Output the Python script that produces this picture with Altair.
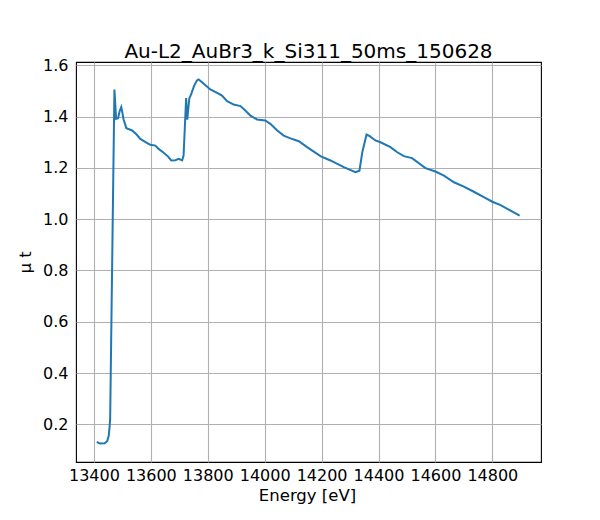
import altair as alt
import pandas as pd

# spectrum
energy = [13410, 13422, 13438, 13447, 13452, 13455, 13457, 13472, 13478, 13485,
          13490, 13496, 13500, 13504, 13514, 13534, 13550, 13563, 13586, 13598,
          13616, 13627, 13643, 13659, 13672, 13686, 13698, 13710, 13715, 13724,
          13728, 13735, 13742, 13752, 13762, 13768, 13786, 13809, 13833, 13850,
          13868, 13891, 13915, 13932, 13950, 13973, 14002, 14020, 14044, 14067,
          14088, 14120, 14149, 14196, 14231, 14278, 14319, 14333, 14343, 14358,
          14369, 14389, 14407, 14442, 14466, 14489, 14518, 14565, 14600, 14630,
          14665, 14700, 14735, 14770, 14800, 14829, 14864, 14896]
mu_t = [0.131, 0.125, 0.126, 0.135, 0.155, 0.19, 0.22, 1.506, 1.391, 1.394,
        1.42, 1.437, 1.415, 1.39, 1.355, 1.346, 1.330, 1.313, 1.298, 1.290,
        1.287, 1.274, 1.261, 1.246, 1.229, 1.230, 1.235, 1.229, 1.248, 1.472,
        1.388, 1.470, 1.489, 1.520, 1.541, 1.545, 1.528, 1.506, 1.493, 1.482,
        1.460, 1.447, 1.441, 1.424, 1.404, 1.389, 1.385, 1.372, 1.346, 1.326,
        1.316, 1.304, 1.281, 1.246, 1.229, 1.203, 1.183, 1.189, 1.261, 1.330,
        1.324, 1.307, 1.300, 1.281, 1.261, 1.246, 1.238, 1.199, 1.186, 1.170,
        1.144, 1.127, 1.107, 1.086, 1.068, 1.055, 1.033, 1.014]

x_ticks = [13400, 13600, 13800, 14000, 14200, 14400, 14600, 14800]
y_ticks = [0.2, 0.4, 0.6, 0.8, 1.0, 1.2, 1.4, 1.6]

df = pd.DataFrame({"energy": energy, "mu": mu_t})

font = "DejaVu Sans"

chart = alt.Chart(df).mark_line(color="#1f77b4", strokeWidth=2).encode(
    x=alt.X("energy:Q",
            scale=alt.Scale(domain=[13337, 14971], nice=False, zero=False),
            axis=alt.Axis(values=x_ticks, title="Energy [eV]", format="d",
                          grid=True, gridColor="#b0b0b0", gridWidth=1.1,
                          domain=False, ticks=False, tickSize=0, labelPadding=5,
                          labelFont=font, labelFontSize=16, labelColor="black",
                          titleFont=font, titleFontSize=16.5, titleFontWeight="normal",
                          titleColor="black", titleX=231, titleY=38,
                          titleBaseline="alphabetic", titleAlign="center")),
    y=alt.Y("mu:Q",
            scale=alt.Scale(domain=[0.053, 1.613], nice=False, zero=False),
            axis=alt.Axis(values=y_ticks, title="μ t", format=".1f",
                          grid=True, gridColor="#b0b0b0", gridWidth=1.1,
                          domain=False, ticks=False, tickSize=0, labelPadding=8,
                          labelFont=font, labelFontSize=16, labelColor="black",
                          titleFont=font, titleFontSize=16.5, titleFontWeight="normal",
                          titleColor="black", titleX=-46, titleY=200, titleAngle=270,
                          titleBaseline="alphabetic", titleAlign="center")),
).properties(
    width=465,
    height=400,
    autosize=alt.AutoSizeParams(type="none"),
    padding={"left": 68, "top": 54, "right": 51, "bottom": 50},
    title=alt.TitleParams("Au-L2_AuBr3_k_Si311_50ms_150628", font=font, fontSize=20,
                          fontWeight="normal", color="black", offset=7,
                          baseline="alphabetic", anchor="middle", dy=28),
).configure_view(stroke="black", strokeWidth=1.1)

chart.save("out.html", embed_options={"renderer": "svg", "actions": False})
